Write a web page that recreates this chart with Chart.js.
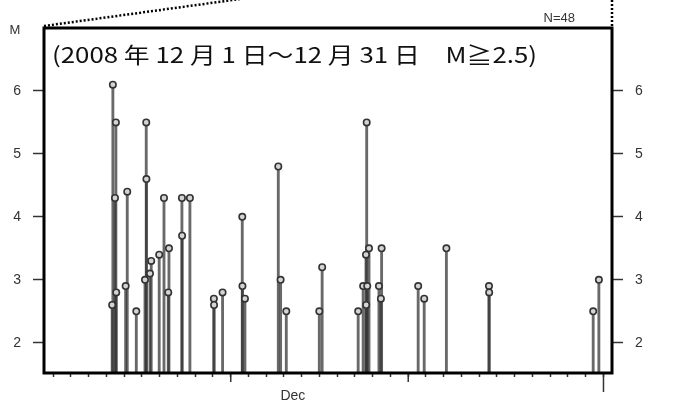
<!DOCTYPE html>
<html>
<head>
<meta charset="utf-8">
<script src="https://cdn.jsdelivr.net/npm/chart.js@4.4.0/dist/chart.umd.min.js"></script>
<style>
  html, body { margin: 0; padding: 0; background: #fff; }
  #wrap { width: 675px; height: 408px; }
</style>
</head>
<body>
<div id="wrap"><canvas id="mtChart" width="675" height="408"></canvas></div>
<script>
// =====================
//  DATA  (Dec 2008, M>=2.5, N=48)
// =====================
// time = days after 2008-12-01 00:00  (0 = Dec 1, 31 = Jan 1)
const EVENT_DAYS = [
    3.32, 3.36, 3.48, 3.53, 3.55, 4.08, 4.17, 4.68, 5.17, 5.24,
    5.25, 5.45, 5.52, 5.97, 6.24, 6.48, 6.52, 7.25, 7.26, 7.70,
    9.05, 9.06, 9.54, 10.65, 10.66, 10.80, 12.68, 12.81, 13.13, 14.99,
    15.15, 17.18, 17.46, 17.62, 17.63, 17.66, 17.69, 17.79, 18.35, 18.46,
    18.50, 20.56, 20.90, 22.15, 24.55, 24.56, 30.42, 30.74
];
const MAGNITUDES = [
    2.6, 6.1, 4.3, 5.5, 2.8, 2.9, 4.4, 2.5, 3.0, 5.5,
    4.6, 3.1, 3.3, 3.4, 4.3, 2.8, 3.5, 4.3, 3.7, 4.3,
    2.7, 2.6, 2.8, 4.0, 2.9, 2.7, 4.8, 3.0, 2.5, 2.5,
    3.2, 2.5, 2.9, 3.4, 2.6, 5.5, 2.9, 3.5, 2.9, 2.7,
    3.5, 2.9, 2.7, 3.5, 2.9, 2.8, 2.5, 3.0
];

const Y_TICKS = [2, 3, 4, 5, 6];
const DAY_TICKS = [0, 1, 2, 3, 4, 5, 6, 7, 8, 9, 10, 11, 12, 13, 14, 15,
                   16, 17, 18, 19, 20, 21, 22, 23, 24, 25, 26, 27, 28, 29, 30, 31];
const MAJOR_DAYS = [10, 20];
const MONTH_END = 31;
const MONTH_LABEL = "Dec";
const MONTH_LABEL_AT = 13.5;

const TITLE_TEXT = "(2008 年 12 月 1 日～12 月 31 日　M≧2.5)";
const COUNT_TEXT = "N=48";
const Y_LABEL = "M";

const X_MIN = -0.52, X_MAX = 31.48;
const Y_MIN = 1.52, Y_MAX = 7.0;

const AXIS_FONT = "'Liberation Sans', Arial, sans-serif";


// =====================
//  DECORATION (frame, long ticks, texts, zoom lines)
// =====================
const decorPlugin = {
    id: "decor",
    afterDraw(chart) {
        const ctx = chart.ctx;
        const a = chart.chartArea;
        const xs = chart.scales.x;
        ctx.save();

        // longer ticks: 10-day marks and month end
        ctx.strokeStyle = "#333";
        ctx.lineWidth = 1.5;
        MAJOR_DAYS.forEach((d) => {
            const px = xs.getPixelForValue(d);
            ctx.beginPath();
            ctx.moveTo(px, a.bottom);
            ctx.lineTo(px, a.bottom + 9);
            ctx.stroke();
        });
        const pe = xs.getPixelForValue(MONTH_END);
        ctx.beginPath();
        ctx.moveTo(pe, a.bottom);
        ctx.lineTo(pe, a.bottom + 19);
        ctx.stroke();

        // frame
        ctx.strokeStyle = "#000";
        ctx.lineWidth = 3;
        ctx.strokeRect(a.left, a.top, a.right - a.left, a.bottom - a.top);

        // dotted zoom lines
        ctx.lineWidth = 2.5;
        ctx.setLineDash([2, 2]);
        ctx.beginPath();
        ctx.moveTo(a.left, a.top - 2);
        ctx.lineTo(240, -1);
        ctx.stroke();
        ctx.beginPath();
        ctx.moveTo(a.right, 0);
        ctx.lineTo(a.right, a.top - 2);
        ctx.stroke();
        ctx.setLineDash([]);

        // period title (stretched to the reference width)
        ctx.fillStyle = "#111";
        ctx.font = "22px 'Noto Sans CJK JP', sans-serif";
        ctx.textBaseline = "alphabetic";
        ctx.textAlign = "left";
        const w = ctx.measureText(TITLE_TEXT).width;
        ctx.save();
        ctx.translate(a.left + 8, 63);
        ctx.scale(485 / w, 1);
        ctx.fillText(TITLE_TEXT, 0, 0);
        ctx.restore();

        // M and N=48
        ctx.fillStyle = "#333";
        ctx.font = "13px " + AXIS_FONT;
        ctx.textAlign = "center";
        ctx.textBaseline = "middle";
        ctx.fillText(Y_LABEL, 15, 30);
        ctx.textAlign = "right";
        ctx.fillText(COUNT_TEXT, 575, 18);

        ctx.restore();
    }
};


// =====================
//  M-T CHART
// =====================
const points = EVENT_DAYS.map((d, i) => ({ x: d, y: MAGNITUDES[i] }));

function yAxis(position, width) {
    return {
        type: "linear",
        position: position,
        min: Y_MIN,
        max: Y_MAX,
        afterBuildTicks: (axis) => { axis.ticks = Y_TICKS.map((v) => ({ value: v })); },
        afterFit: (axis) => { axis.width = width; },
        ticks: {
            color: "#333",
            padding: 12,
            font: { size: 14, family: AXIS_FONT }
        },
        grid: {
            drawOnChartArea: false,
            tickLength: 11,
            tickColor: "#333",
            tickWidth: 1.5
        },
        border: { display: false }
    };
}

const allXTicks = DAY_TICKS.concat([MONTH_LABEL_AT]).sort((p, q) => p - q);

new Chart(document.getElementById("mtChart").getContext("2d"), {
    type: "scatter",
    data: {
        datasets: [
            {
                type: "scatter",
                label: "events",
                data: points,
                pointRadius: 3.2,
                pointBorderWidth: 1.6,
                pointBorderColor: "#333",
                pointBackgroundColor: "#d4d4d4",
                order: 1
            },
            {
                type: "bar",
                label: "stems",
                data: points,
                base: Y_MIN,
                barThickness: 2.2,
                backgroundColor: "rgba(55, 55, 55, 0.75)",
                borderWidth: 0,
                order: 2
            }
        ]
    },
    options: {
        responsive: false,
        animation: false,
        layout: { padding: { top: 28, left: 0, right: 0, bottom: 0 } },
        plugins: {
            legend: { display: false },
            tooltip: { enabled: false }
        },
        scales: {
            x: {
                type: "linear",
                position: "bottom",
                min: X_MIN,
                max: X_MAX,
                offset: false,
                afterBuildTicks: (axis) => { axis.ticks = allXTicks.map((v) => ({ value: v })); },
                afterFit: (axis) => { axis.height = 35; },
                ticks: {
                    autoSkip: false,
                    maxRotation: 0,
                    color: "#333",
                    padding: 11,
                    font: { size: 14, family: AXIS_FONT },
                    callback: (v) => (v === MONTH_LABEL_AT ? MONTH_LABEL : "")
                },
                grid: {
                    offset: false,
                    drawOnChartArea: false,
                    tickLength: 4,
                    tickWidth: 1.5,
                    tickColor: (c) => (c.tick && c.tick.value === MONTH_LABEL_AT ? "rgba(0,0,0,0)" : "#333")
                },
                border: { display: false }
            },
            y: yAxis("left", 44),
            y2: yAxis("right", 63)
        }
    },
    plugins: [decorPlugin]
});
</script>
</body>
</html>
